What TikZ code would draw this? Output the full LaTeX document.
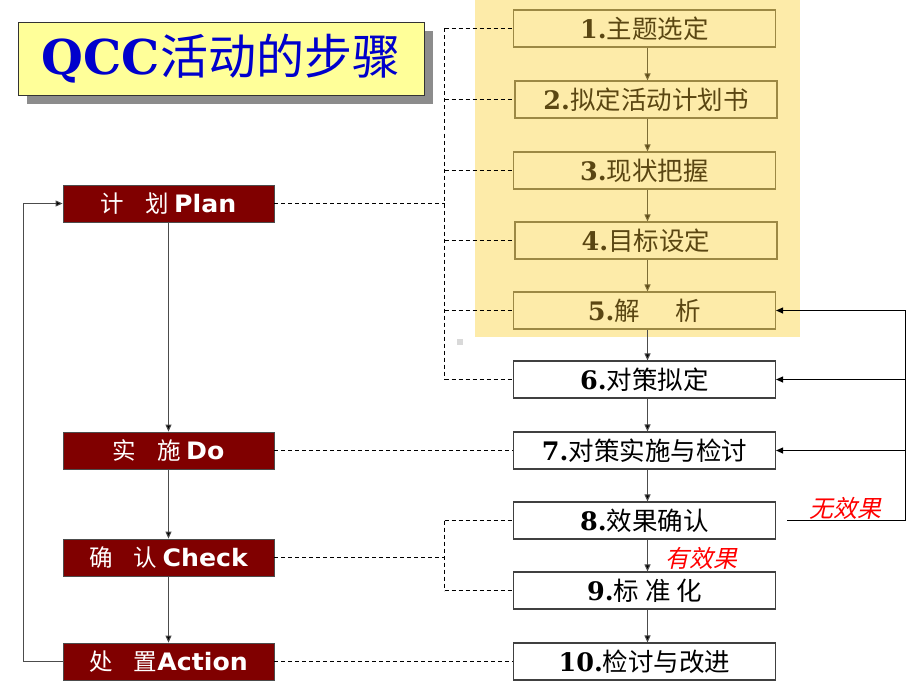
\documentclass[tikz,border=0pt]{standalone}
\usepackage{fontspec}
\setmainfont{Liberation Serif}
\newfontfamily\cjk{Noto Sans CJK SC}
\newfontfamily\cjki{Noto Sans CJK SC}[FakeSlant=0.22]
\newfontfamily\latb{DejaVu Sans}[FakeStretch=1.05]
\newfontfamily\digf{DejaVu Serif}
\usetikzlibrary{arrows.meta}
\definecolor{panelY}{HTML}{FDEBA9}
\definecolor{olive}{HTML}{9C8844}
\definecolor{brownT}{HTML}{5A4612}
\definecolor{dred}{HTML}{800000}
\definecolor{titleY}{HTML}{FFFF99}
\definecolor{titleB}{HTML}{0000CC}
\tikzset{
  rbox/.style={draw=#1, line width=1.1pt, minimum width=262pt, minimum height=37pt, inner sep=0pt, font=\fontsize{25.5}{27}\selectfont},
  ybox/.style={rbox=olive, fill=panelY, text=brownT},
  wbox/.style={rbox=black!75, fill=white, text=black},
  lbox/.style={draw=black!70, line width=0.8pt, fill=dred, text=white, minimum width=211pt, minimum height=37pt, inner sep=0pt, font=\fontsize{23.5}{25}\selectfont},
  arr/.style={draw=black!70, line width=1pt, -{Triangle[width=6pt,length=7pt,fill=black]}},
  oarr/.style={draw=olive!80!black, line width=1pt, -{Triangle[width=6pt,length=7pt,fill=brownT]}},
  dsh/.style={draw=black, line width=1pt, dash pattern=on 4pt off 3pt},
  redlab/.style={text=red, font=\cjki\fontsize{24}{26}\selectfont, inner sep=0pt}
}
\newcommand{\num}[1]{{\digf\bfseries #1}}
\newcommand{\lat}[1]{{\latb\bfseries\fontsize{24}{26}\selectfont #1}}
\begin{document}
\begin{tikzpicture}[x=1pt,y=-1pt]
\useasboundingbox (0,0) rectangle (920,690);
% panel
\fill[panelY] (475,0) rectangle (800,337);
\fill[black!15] (457,339) rectangle (463,345);
% title
\fill[black!45] (27,31) rectangle (433,104);
\node[draw=black!80, line width=0.8pt, fill=titleY, minimum width=406pt, minimum height=73pt, inner sep=0pt, text=titleB, font=\fontsize{48}{50}\selectfont] (title) at (221,58.5) {{\digf\bfseries QCC}\cjk 活动的步骤};
% right boxes
\node[ybox] (b1) at (644.5,28.5) {\num{1.}\cjk 主题选定};
\node[ybox] (b2) at (646,99.5) {\num{2.}\cjk 拟定活动计划书};
\node[ybox] (b3) at (644.5,170.5) {\num{3.}\cjk 现状把握};
\node[ybox] (b4) at (646,240.5) {\num{4.}\cjk 目标设定};
\node[ybox] (b5) at (644.5,310.5) {\num{5.}\cjk 解\hspace{1.4em}析};
\node[wbox] (b6) at (644.5,379.5) {\num{6.}\cjk 对策拟定};
\node[wbox] (b7) at (644.5,450.5) {\num{7.}\cjk 对策实施与检讨};
\node[wbox] (b8) at (644.5,520.5) {\num{8.}\cjk 效果确认};
\node[wbox] (b9) at (644.5,590.5) {\num{9.}\cjk 标 准 化};
\node[wbox] (b10) at (644.5,661.5) {\num{10.}\cjk 检讨与改进};
% left boxes
\node[lbox] (plan) at (168.5,203.5) {\cjk 计\hspace{0.9em}划 \lat{Plan}};
\node[lbox] (do) at (168.5,450.5) {\cjk 实\hspace{0.9em}施 \lat{Do}};
\node[lbox] (chk) at (168.5,557.5) {\cjk 确\hspace{0.9em}认 \lat{Check}};
\node[lbox] (act) at (168.5,661.5) {\cjk 处\hspace{0.9em}置\lat{Action}};
% right vertical arrows
\draw[oarr] (b1.south -| 647.5,0) -- (b2.north -| 647.5,0);
\draw[oarr] (b2.south -| 647.5,0) -- (b3.north -| 647.5,0);
\draw[oarr] (b3.south -| 647.5,0) -- (b4.north -| 647.5,0);
\draw[oarr] (b4.south -| 647.5,0) -- (b5.north -| 647.5,0);
\draw[arr] (b5.south -| 647.5,0) -- (b6.north -| 647.5,0);
\draw[arr] (b6.south -| 647.5,0) -- (b7.north -| 647.5,0);
\draw[arr] (b7.south -| 647.5,0) -- (b8.north -| 647.5,0);
\draw[arr] (b8.south -| 647.5,0) -- (b9.north -| 647.5,0);
\draw[arr] (b9.south -| 647.5,0) -- (b10.north -| 647.5,0);
% left vertical arrows
\draw[arr] (plan.south) -- (do.north);
\draw[arr] (do.south) -- (chk.north);
\draw[arr] (chk.south) -- (act.north);
\draw[arr] (act.west) -- ++(-39,0) |- (plan.west);
% dashed links
\coordinate (vx) at (444.5,0);
\draw[dsh] (plan.east) -- (plan.east -| vx);
\draw[dsh] (b1.west -| vx) -- (b6.west -| vx);
\foreach \b in {b1,b2,b3,b4,b5,b6} \draw[dsh] (\b.west -| vx) -- (\b.west);
\draw[dsh] (do.east) -- (b7.west);
\draw[dsh] (chk.east) -- (chk.east -| vx);
\draw[dsh] (b8.west -| vx) -- (b9.west -| vx);
\foreach \b in {b8,b9} \draw[dsh] (\b.west -| vx) -- (\b.west);
\draw[dsh] (act.east) -- (b10.west);
% feedback
\coordinate (fb) at (905.5,310.5);
\draw[black, line width=1pt] ([xshift=11pt]b8.east) -| (fb);
\draw[arr, draw=black] (fb) -- (b5.east);
\draw[arr, draw=black] (fb |- b6.east) -- (b6.east);
\draw[arr, draw=black] (fb |- b7.east) -- (b7.east);
% labels
\node[redlab] (nx) at (845,508) {无效果};
\node[redlab] (yx) at (701,558) {有效果};
\end{tikzpicture}
\end{document}
